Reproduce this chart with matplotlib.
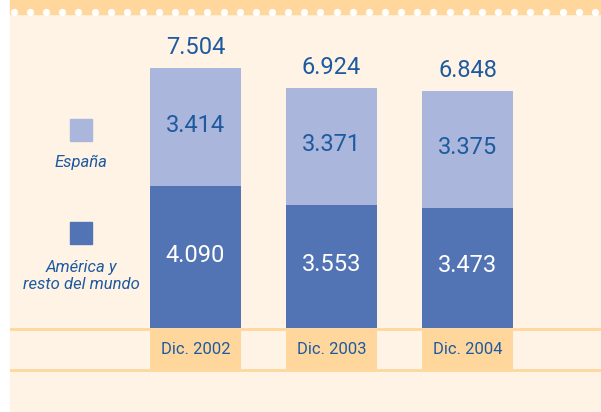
import numpy as np
import matplotlib.pyplot as plt
from matplotlib.patches import Rectangle
from matplotlib.lines import Line2D

# ============================================================
# Data
# ============================================================

periods = ['Dic. 2002', 'Dic. 2003', 'Dic. 2004']
america = [4090, 3553, 3473]
espana = [3414, 3371, 3375]
totals = [7504, 6924, 6848]

series_names = ['España', 'América y\nresto del mundo']

# ============================================================
# Style
# ============================================================

cream = '#FEF3E4'
orange = '#FFD79C'
light_blue = '#AAB6DB'
dark_blue = '#5274B4'
text_blue = '#1E5AA0'

num_font = ['Roboto', 'DejaVu Sans']
lab_font = ['Liberation Sans Narrow', 'Roboto', 'DejaVu Sans']

W, H = 601, 412
fig = plt.figure(figsize=(W / 100, H / 100), dpi=100, facecolor='white')

# pixel geometry of the chart
left_px = 10
base_px = 84          # baseline height from bottom
px = 7504 / 260.0     # value units per pixel
step_px = 136
x0_px = 195.5

ax = fig.add_axes([left_px / W, 0, 1 - left_px / W, 1])
ax.set_facecolor(cream)
ax.set_xlim((left_px - x0_px) / step_px, (W - x0_px) / step_px)
ax.set_ylim(-base_px * px, (H - base_px) * px)
ax.set_xticks([])
ax.set_yticks([])
for s in ax.spines.values():
    s.set_visible(False)

x = np.arange(len(periods))
bw = 91 / step_px

ax.bar(x, america, width=bw, color=dark_blue, zorder=2)
ax.bar(x, espana, bottom=america, width=bw, color=light_blue, zorder=2)

# category label boxes
ax.bar(x, 39 * px, bottom=-41 * px, width=bw, color=orange, zorder=2)
ax.axhline(-0.7 * px, color=orange, lw=2, zorder=1)
ax.axhline(-42 * px, color=orange, lw=2, zorder=1)

for i, lab in enumerate(periods):
    ax.text(x[i], -21.5 * px, lab, ha='center', va='center', fontsize=12,
            color=text_blue, family=lab_font, zorder=3)

# values inside the bars
fmt = lambda v: f'{v:,}'.replace(',', '.')
for i in range(len(periods)):
    ax.text(x[i], america[i] / 2 + 2 * px, fmt(america[i]),
            ha='center', va='center', fontsize=17, color='white',
            family=num_font, zorder=3)
    ax.text(x[i], america[i] + espana[i] / 2 + 2 * px, fmt(espana[i]),
            ha='center', va='center', fontsize=17, color=text_blue,
            family=num_font, zorder=3)
    ax.text(x[i], totals[i] + 20.5 * px, fmt(totals[i]),
            ha='center', va='center', fontsize=17, color=text_blue,
            family=num_font, zorder=3)

# ============================================================
# Legend (drawn by hand, on the left)
# ============================================================

fig.patches.append(Rectangle((70 / W, 1 - 141 / H), 22 / W, 22 / H,
                             transform=fig.transFigure, color=light_blue))
fig.patches.append(Rectangle((70 / W, 1 - 244 / H), 22 / W, 22 / H,
                             transform=fig.transFigure, color=dark_blue))
fig.text(81 / W, 1 - 162 / H, series_names[0], ha='center', va='center',
         fontsize=12, style='italic', color=text_blue, family=num_font)
fig.text(81 / W, 1 - 276 / H, series_names[1], ha='center', va='center',
         fontsize=12, style='italic', color=text_blue, family=num_font,
         linespacing=1.15)

# ============================================================
# Top band with dots
# ============================================================

fig.patches.append(Rectangle((left_px / W, 1 - 14 / H), 1, 14 / H,
                             transform=fig.transFigure, color=orange))
dots_x = np.arange(13.8, W, 16.14)
fig.lines.append(Line2D(dots_x / W, np.full(len(dots_x), 1 - 12 / H),
                        transform=fig.transFigure, ls='none', marker='o',
                        ms=4.2, mfc='white', mec='white'))

fig.savefig('out.png', dpi=100, facecolor='white')
